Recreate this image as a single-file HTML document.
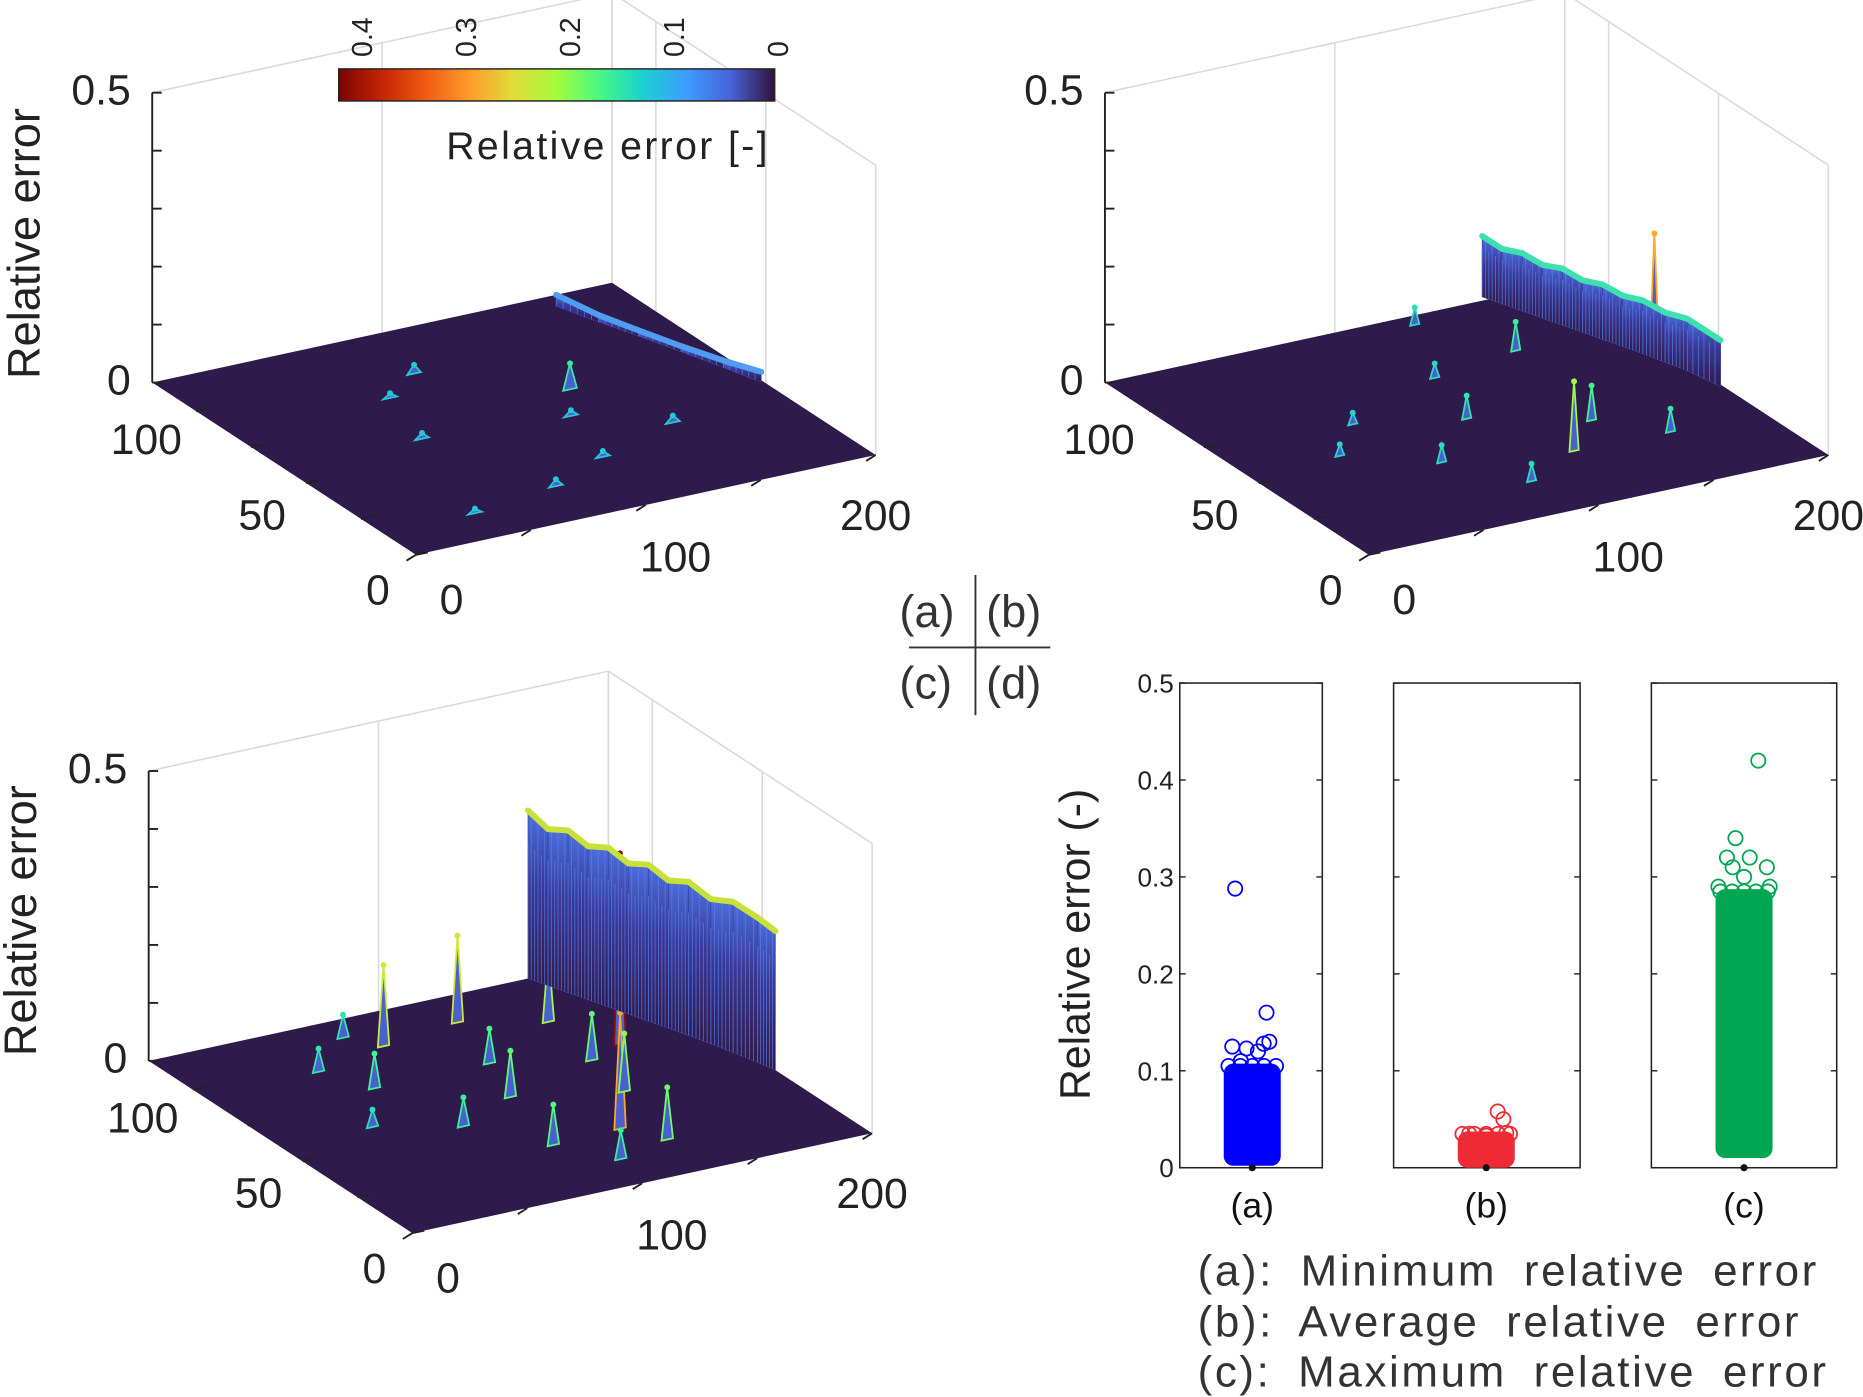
<!DOCTYPE html>
<html><head><meta charset="utf-8"><style>
html,body{margin:0;padding:0;background:#fff;}
svg{display:block;font-family:"Liberation Sans",sans-serif;}
</style></head><body>
<svg id="fig" width="1863" height="1397" viewBox="0 0 1568 1176" xmlns="http://www.w3.org/2000/svg">
<defs>
<linearGradient id="cbar" x1="0" x2="1" y1="0" y2="0">
<stop offset="0" stop-color="#7a0403"/><stop offset="0.1" stop-color="#c42503"/><stop offset="0.2" stop-color="#f05b12"/><stop offset="0.3" stop-color="#fe9b2d"/><stop offset="0.4" stop-color="#e1dc37"/><stop offset="0.5" stop-color="#a4fc3c"/><stop offset="0.6" stop-color="#46f884"/><stop offset="0.7" stop-color="#1bcfd4"/><stop offset="0.8" stop-color="#3e9bfe"/><stop offset="0.9" stop-color="#4662d7"/><stop offset="1" stop-color="#30123b"/>
</linearGradient>
<linearGradient id="wallg" x1="0" x2="0" y1="1" y2="0">
<stop offset="0" stop-color="#2e1a4b"/><stop offset="0.6" stop-color="#3a3a9a"/><stop offset="1" stop-color="#4a70e0"/>
</linearGradient>
</defs>
<g id="panels"></g>
<g id="scatter"></g>
</svg>
<script>
// ---- 3D surface data (x 0..200, y 0..120, z relative error) ----
const ridgeA_x=[170,176,182,188,194,199];
const ridgeA_y=[114,101,89,76,63,51];
const ridgeA_z=[0.02,0.012,0.01,0.01,0.012,0.018];
const bumpA_x=[133,90,60,150,110,40,80,120,70];
const bumpA_y=[69,95,60,40,30,15,20,55,85];
const bumpA_z=[0.045,0.015,0.01,0.012,0.01,0.008,0.012,0.01,0.008];

const wallB_x=[166,169,172,175,178,181,184,187,190,193,196,199];
const wallB_y=[122,116,110,104,98,92,86,80,74,67,60,48];
const wallB_z=[0.105,0.095,0.1,0.092,0.098,0.09,0.095,0.088,0.092,0.086,0.09,0.08];
const spikeB_x=[196,119,130,100,140,70,150,60,90,110,160,40];
const spikeB_y=[75,31,115,60,45,40,90,70,20,85,30,55];
const spikeB_z=[0.2,0.12,0.03,0.04,0.06,0.03,0.05,0.02,0.03,0.025,0.04,0.02];

const wallC_x=[165,168,171,174,177,180,183,186,189,192,195,198,200];
const wallC_y=[120,114,108,102,96,90,84,78,72,65,58,50,44];
const wallC_z=[0.29,0.27,0.28,0.265,0.275,0.26,0.27,0.255,0.265,0.25,0.26,0.25,0.24];
const spikeC_x=[84,120,162,120,100,60,140,90,70,130,150,110,50,40,105,145,75];
const spikeC_y=[101,105,75,31,60,80,50,30,50,20,95,80,95,60,15,70,110];
const spikeC_z=[0.14,0.15,0.33,0.2,0.08,0.06,0.1,0.07,0.05,0.09,0.12,0.06,0.04,0.03,0.05,0.08,0.04];

const zTicks=["0","0.5"], xTicks=["0","100","200"], yTicks=["0","50","100"];
const cbarTicks=["0.4","0.3","0.2","0.1","0"];

// ---- scatter data ----
const groups=["(a)","(b)","(c)"];
const bandLow=[0.002,0.0,0.01];
const bandHigh=[0.1,0.03,0.28];
const outA_v=[0.288,0.16,0.125,0.123,0.128,0.13,0.12,0.11];
const outA_j=[-0.3,0.25,-0.35,-0.1,0.2,0.3,0.1,-0.2];
const outB_v=[0.058,0.05,0.035,0.033,0.036];
const outB_j=[0.2,0.3,-0.3,0.0,0.35];
const outC_v=[0.42,0.34,0.32,0.31,0.32,0.31,0.29,0.29,0.3];
const outC_j=[0.25,-0.15,-0.3,-0.2,0.1,0.4,-0.45,0.45,0.0];
const yTicksD=[0,0.1,0.2,0.3,0.4,0.5];

const NS="http://www.w3.org/2000/svg";
function mk(tag,attrs,parent,text){const e=document.createElementNS(NS,tag);for(const k in attrs)e.setAttribute(k,attrs[k]);if(text!==undefined)e.textContent=text;parent.appendChild(e);return e;}
function turbo(t){t=Math.max(0,Math.min(1,t));
const r=34.61+t*(1172.33-t*(10793.56-t*(33300.12-t*(38394.49-t*14825.05))));
const g=23.31+t*(557.33+t*(1225.33-t*(3574.96-t*(1073.77+t*707.56))));
const b=27.2+t*(3211.1-t*(15327.97-t*(27814-t*(22569.18-t*6838.66))));
const c=v=>Math.max(0,Math.min(255,Math.round(v)));return `rgb(${c(r)},${c(g)},${c(b)})`;}

const panels=document.getElementById('panels');
function panel(name,ox,oy,draw){
  const g=mk('g',{},panels);
  
  
  const P=(x,y,z)=>[ox+x*1.935-y*1.85, oy-x*0.42-y*1.208-z*488];
  const pt=a=>a[0].toFixed(1)+','+a[1].toFixed(1);
  const gray='#d9d9d9';
  const bl=P(0,120,0),br=P(200,120,0),fr=P(200,0,0);
  const blt=P(0,120,0.5),brt=P(200,120,0.5),frt=P(200,0,0.5);
  const grid=mk('g',{stroke:gray,'stroke-width':1.3,fill:'none'},g);
  
  
  mk('polyline',{points:[blt,brt,frt].map(pt).join(' ')},grid);
  mk('line',{x1:frt[0],y1:frt[1],x2:fr[0],y2:fr[1]},grid);
  mk('line',{x1:brt[0],y1:brt[1],x2:br[0],y2:br[1]},grid);
  [100,200].forEach(v=>{const a=P(v,120,0),b=P(v,120,0.5);mk('line',{x1:a[0],y1:a[1],x2:b[0],y2:b[1]},grid);});
  [50,100].forEach(v=>{const a=P(200,v,0),b=P(200,v,0.5);mk('line',{x1:a[0],y1:a[1],x2:b[0],y2:b[1]},grid);});
  const floor=mk('polygon',{points:[P(0,0,0),P(200,0,0),P(200,120,0),P(0,120,0)].map(pt).join(' '),fill:'#2e1a4b'},g);
  
  
  const ax=mk('g',{stroke:'#222','stroke-width':1.6},g);
  
  
  const zb=P(0,120,0),zt=P(0,120,0.5);
  mk('line',{x1:zb[0],y1:zb[1],x2:zt[0],y2:zt[1]},ax);
  [0,0.1,0.2,0.3,0.4,0.5].forEach(v=>{const a=P(0,120,v);mk('line',{x1:a[0],y1:a[1],x2:a[0]+8,y2:a[1]},ax);});
  [0,50,100,150,200].forEach(v=>{const a=P(v,0,0);mk('line',{x1:a[0],y1:a[1],x2:a[0]-8,y2:a[1]+5},ax);});
  [0,25,50,75,100].forEach(v=>{const a=P(0,v,0);mk('line',{x1:a[0],y1:a[1],x2:a[0]+10,y2:a[1]-2},ax);});
  const lab=(t,x,y,nm,anchor)=>{const e=mk('text',{x:x,y:y,'font-size':36,fill:'#222','text-anchor':anchor||'middle'},g,t);};
  zTicks.forEach((t,i)=>{const a=P(0,120,i*0.5);lab(t,a[0]-18,a[1]+10,'z-tick-label','end');});
  const xo=[[30,50],[25,56],[0,63]];
  xTicks.forEach((t,i)=>{const a=P(i*100,0,0);lab(t,a[0]+xo[i][0],a[1]+xo[i][1],'x-tick-label');});
  yTicks.forEach((t,i)=>{const a=P(0,i*50,0);lab(t,a[0]-32-i*5,a[1]+42-i*3,'y-tick-label');});
  draw(P,g,pt);
}
function wall(P,g,pt,xs,ys,zs,name,topColor){
  const w=mk('g',{},g);
  
  
  for(let i=0;i<xs.length-1;i++){
    const q=[P(xs[i],ys[i],0),P(xs[i+1],ys[i+1],0),P(xs[i+1],ys[i+1],zs[i+1]),P(xs[i],ys[i],zs[i])];
    mk('polygon',{points:q.map(pt).join(' '),fill:'url(#wallg)',stroke:'#3a3f9f','stroke-width':0.5},w);
    for(let k=0;k<6;k++){const f=k/6;const x=xs[i]+(xs[i+1]-xs[i])*f,y=ys[i]+(ys[i+1]-ys[i])*f,z=zs[i]+(zs[i+1]-zs[i])*f;
      const a=P(x,y,0),b=P(x,y,z*(0.8+0.2*((k%2))));mk('line',{x1:a[0],y1:a[1],x2:b[0],y2:b[1],stroke:'#5a80e8','stroke-width':0.8,opacity:0.7},w);}
  }
  for(let i=0;i<xs.length-1;i++){const a=P(xs[i],ys[i],zs[i]),b=P(xs[i+1],ys[i+1],zs[i+1]);
    mk('line',{x1:a[0],y1:a[1],x2:b[0],y2:b[1],stroke:topColor,'stroke-width':5,'stroke-linecap':'round'},w);}
}
function spikes(P,g,pt,xs,ys,zs,name,wd){
  xs.forEach((x,i)=>{const s=mk('polygon',{points:[P(x-wd,ys[i],0),P(x,ys[i],zs[i]),P(x+wd,ys[i],0)].map(pt).join(' '),fill:'#4a5fd0',stroke:turbo(0.25+zs[i]/0.45),'stroke-width':1.5},g);
    
    
    const t=P(x,ys[i],zs[i]);mk('circle',{cx:t[0],cy:t[1],r:2.5,fill:turbo(0.25+zs[i]/0.45)},g);});
}
panel('surface-panel-a',350,467,(P,g,pt)=>{wall(P,g,pt,ridgeA_x,ridgeA_y,ridgeA_z,'ridge-a','#4f9cf0');spikes(P,g,pt,bumpA_x,bumpA_y,bumpA_z,'bump-a',3);});
panel('surface-panel-b',1152,467,(P,g,pt)=>{spikes(P,g,pt,spikeB_x,spikeB_y,spikeB_z,'spike-b',2);wall(P,g,pt,wallB_x,wallB_y,wallB_z,'wall-b','#3fe0b0');});
panel('surface-panel-c',347,1038,(P,g,pt)=>{spikes(P,g,pt,spikeC_x,spikeC_y,spikeC_z,'spike-c',2.5);wall(P,g,pt,wallC_x,wallC_y,wallC_z,'wall-c','#c8e03a');});

function txt(t,attrs,name,parent){const e=mk('text',attrs,parent||document.getElementById('fig'),t);return e;}
txt('Relative error',{x:0,y:0,transform:'translate(33,205) rotate(-90)','font-size':38,'text-anchor':'middle',fill:'#222'},'z-axis-title-a');
txt('Relative error',{x:0,y:0,transform:'translate(30,775) rotate(-90)','font-size':38,'text-anchor':'middle',fill:'#222'},'z-axis-title-c');

const fig=document.getElementById('fig');
const cb=mk('rect',{x:285,y:58,width:367,height:27,fill:'url(#cbar)',stroke:'#222','stroke-width':1.2},fig);


cbarTicks.forEach((t,i)=>{const x=305+i*87.5;txt(t,{x:0,y:0,transform:`translate(${x+8},${48}) rotate(-90)`,'font-size':24,fill:'#222'},'colorbar-tick-label');});
txt('Relative error [-]',{x:648,y:134,'font-size':33,'text-anchor':'end',fill:'#222','letter-spacing':2},'colorbar-title');

txt('(a)',{x:757,y:528,'font-size':38,fill:'#333'},'key-a');
txt('(b)',{x:830,y:528,'font-size':38,fill:'#333'},'key-b');
txt('(c)',{x:757,y:588,'font-size':38,fill:'#333'},'key-c');
txt('(d)',{x:830,y:588,'font-size':38,fill:'#333'},'key-d');
mk('line',{x1:821,y1:484,x2:821,y2:602,stroke:'#333','stroke-width':1.6},fig);
mk('line',{x1:765,y1:545,x2:884,y2:545,stroke:'#333','stroke-width':1.6},fig);

const S=document.getElementById('scatter');


const boxes=[[993,1113],[1173,1330],[1390,1546]];
const colors=['#0000ff','#ee2a35','#00a651'];
const yS=v=>983-v*816;
const outs=[[outA_v,outA_j],[outB_v,outB_j],[outC_v,outC_j]];
groups.forEach((gname,i)=>{
  const [x0,x1]=boxes[i];const cx=[1054,1251,1468][i];
  const b=mk('rect',{x:x0,y:575,width:x1-x0,height:408,fill:'none',stroke:'#222','stroke-width':1.3},S);
  
  
  yTicksD.forEach(v=>{mk('line',{x1:x0,y1:yS(v),x2:x0+5,y2:yS(v),stroke:'#222','stroke-width':1.2},S);mk('line',{x1:x1,y1:yS(v),x2:x1-5,y2:yS(v),stroke:'#222','stroke-width':1.2},S);});
  const band=mk('rect',{x:cx-24,y:yS(bandHigh[i])-6,width:48,height:yS(bandLow[i])-yS(bandHigh[i])+6,rx:8,fill:colors[i]},S);
  
  
  for(let k=0;k<5;k++){mk('circle',{cx:cx-20+k*10,cy:yS(bandHigh[i])-4,r:6,fill:'none',stroke:colors[i],'stroke-width':1.5},S);}
  outs[i][0].forEach((v,k)=>{const c=mk('circle',{cx:cx+outs[i][1][k]*48,cy:yS(v),r:6,fill:'none',stroke:colors[i],'stroke-width':1.5},S);
    
    });
  mk('circle',{cx:cx,cy:yS(0),r:3,fill:'#111'},S);
  txt(gname,{x:cx,y:1025,'font-size':30,'text-anchor':'middle',fill:'#111'},'category-label',S);
});
yTicksD.forEach(v=>txt(String(v),{x:988,y:yS(v)+8,'font-size':22,'text-anchor':'end',fill:'#222'},'y-tick-label-d',S));
txt('Relative error (-)',{x:0,y:0,transform:'translate(917,795) rotate(-90)','font-size':36,'text-anchor':'middle',fill:'#222'},'y-axis-title-d',S);
const la={'font-size':37,fill:'#333','letter-spacing':2.2,'word-spacing':10};
txt('(a): Minimum relative error',Object.assign({x:1008,y:1082},la),'legend-a',S);
txt('(b): Average relative error',Object.assign({x:1008,y:1125},la),'legend-b',S);
txt('(c): Maximum relative error',Object.assign({x:1008,y:1167},la),'legend-c',S);
</script>
</body></html>
